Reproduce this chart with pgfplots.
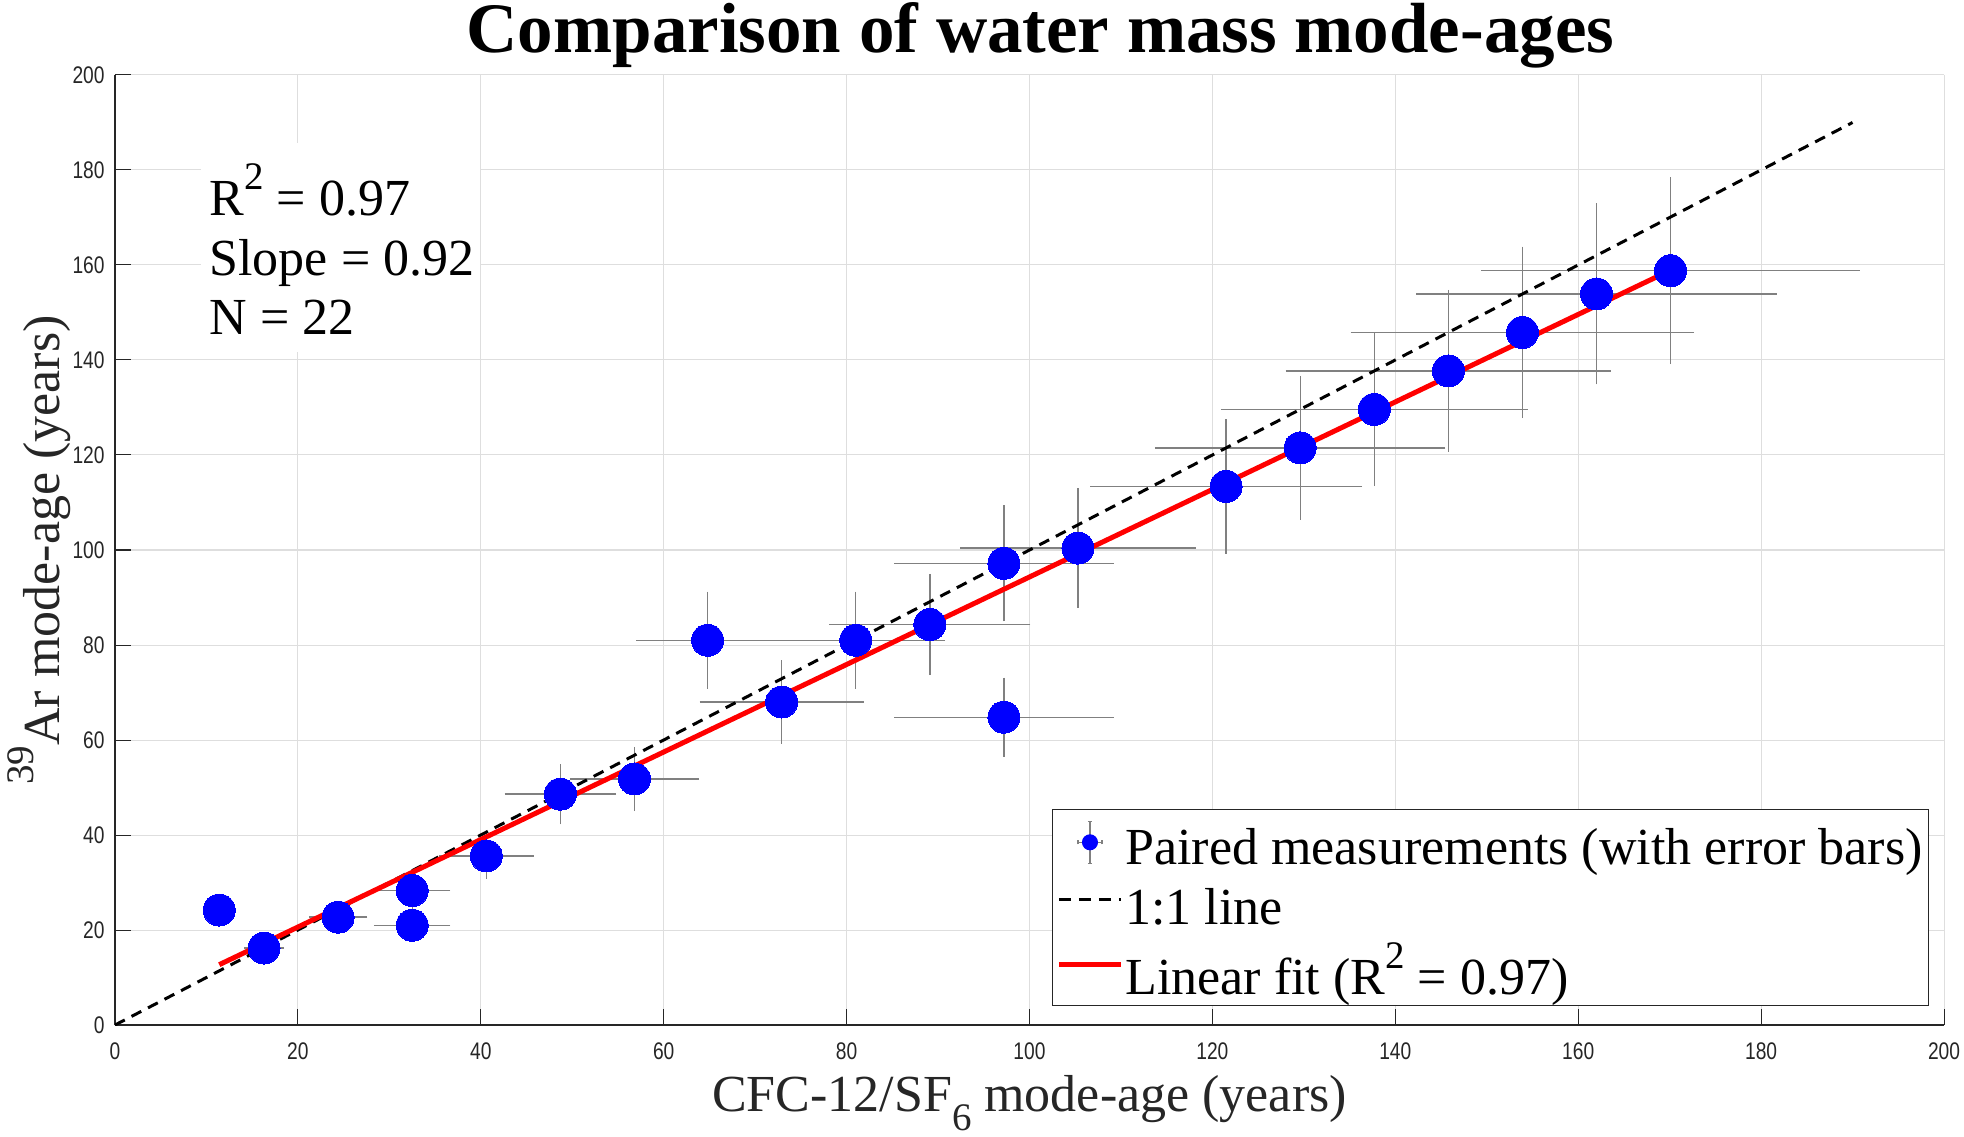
\documentclass[border=0pt]{standalone}
\usepackage{pgfplots}
\pgfplotsset{compat=1.18}
\usepackage{pgfplotstable}
\usepackage{fontspec}
\setmainfont{Liberation Serif}
\newfontfamily\tickfont[FakeStretch=0.8]{Liberation Sans}
\definecolor{axgray}{RGB}{38,38,38}
\definecolor{gridgray}{RGB}{222,222,222}
\definecolor{ebgray}{RGB}{128,128,128}
\newcommand{\msup}[1]{\raisebox{13pt}{\fontsize{19.5}{19.5}\selectfont #1}}
\newcommand{\msub}[1]{\raisebox{-9.5pt}{\fontsize{19.5}{19.5}\selectfont #1}}
\pgfplotstableread{
x y ex ey
11.4 24.2 1.4 2.9
16.3 16.2 1.9 2.0
24.4 22.7 2.9 2.7
32.5 28.3 3.9 3.4
32.5 21.0 3.9 2.5
40.6 35.6 4.9 4.3
48.7 48.6 5.8 5.8
56.8 51.8 6.8 6.2
64.8 81.0 7.5 9.7
72.9 68.0 8.7 8.2
81.0 81.0 9.5 9.7
89.1 84.3 10.7 10.1
97.2 97.2 11.7 11.7
97.2 64.8 11.7 7.8
105.3 100.4 12.6 12.0
121.5 113.4 14.6 13.6
129.6 121.5 15.6 14.6
137.7 129.6 16.5 15.6
145.8 137.7 17.5 16.5
153.9 145.8 18.5 17.5
162.0 153.9 19.4 18.5
170.1 158.8 20.4 19.1
}\pairs
\begin{document}
\begin{tikzpicture}
\useasboundingbox (-57.5pt,-55.5pt) rectangle (924.5pt,512.5pt);
\begin{axis}[
  at={(0pt,0pt)}, anchor=south west,
  scale only axis, width=914.5pt, height=475pt,
  xmin=0, xmax=200, ymin=0, ymax=200,
  xtick={0,20,...,200}, ytick={0,20,...,200},
  axis x line*=bottom, axis y line*=left,
  axis line style={axgray, line width=0.6pt},
  tick align=inside, major tick length=8pt,
  major tick style={axgray, line width=0.5pt},
  grid=major, major grid style={gridgray, line width=0.5pt},
  /pgf/number format/assume math mode=true,
  ticklabel style={font=\tickfont\fontsize{12}{14}\selectfont, text=axgray},
  xticklabel style={anchor=north, inner sep=0pt, yshift=-8.5pt},
  yticklabel style={anchor=east, inner sep=0pt, xshift=-5pt},
  title={Comparison of water mass mode-ages},
  title style={at={(axis description cs:0.506,1.0112)}, anchor=base, font=\bfseries\fontsize{35.5}{40}\selectfont, inner sep=0pt, text height=24pt, text depth=8pt},
  xlabel={CFC-12/SF\msub{6} mode-age (years)},
  xlabel style={at={(axis description cs:0.5,-0.09053)}, anchor=base, font=\fontsize{26}{30}\selectfont, text=axgray, inner sep=0pt},
  ylabel={\msup{39}Ar mode-age (years)},
  ylabel style={at={(axis description cs:-0.03007,0.5)}, rotate=0, anchor=base, font=\fontsize{26}{30}\selectfont, text=axgray, inner sep=0pt},
  legend style={at={(axis description cs:0.9918,0.02)}, anchor=south east, draw=axgray, line width=0.5pt, fill=white, inner xsep=2pt, inner ysep=3pt, row sep=0pt, font=\fontsize{26}{30}\selectfont, nodes={inner sep=1pt}},
  legend cell align=left,
]
\addplot[only marks, mark=*, mark size=8pt, mark options={fill=blue, draw=blue, line width=0pt},
  legend image code/.code={
    \path (0pt,0pt) (31pt,0pt);
    \draw[ebgray,line width=0.7pt] (15.5pt,-10.5pt) -- (15.5pt,10.5pt) (9.5pt,0pt) -- (21.5pt,0pt)
      (14.5pt,-10.5pt) -- (16.5pt,-10.5pt) (14.5pt,10.5pt) -- (16.5pt,10.5pt)
      (9.5pt,-1pt) -- (9.5pt,1pt) (21.5pt,-1pt) -- (21.5pt,1pt);
    \fill[blue] (15.5pt,0pt) circle (3.75pt);
  },
  error bars/.cd, x dir=both, x explicit, y dir=both, y explicit,
  error bar style={ebgray, line width=0.7pt},
  error mark options={ebgray, line width=0.7pt, mark size=1.3pt}]
  table[x=x, y=y, x error=ex, y error=ey]{\pairs};
\addlegendentry{Paired measurements (with error bars)\rule[-4pt]{0pt}{27.7pt}}
\addplot[black, line width=1.5pt, dash pattern=on 5.5pt off 3.8pt,
  legend image code/.code={\draw[black,line width=1.5pt,dash pattern=on 6pt off 4pt] (0pt,0pt)--(31pt,0pt);}]
  coordinates {(0,0) (190,190)};
\addlegendentry{1:1 line\rule[-4pt]{0pt}{30.5pt}}
\addplot[red, line width=2.5pt,
  legend image code/.code={\draw[red,line width=2.5pt] (0pt,0pt)--(31pt,0pt);}]
  coordinates {(11.4,12.7) (170.1,158.9)};
\addlegendentry{Linear fit (R\msup{2} = 0.97)\rule[-2.5pt]{0pt}{34pt}}
\fill[white] (axis cs:9.4,141.7) rectangle (axis cs:39.9,185.7);
\node[anchor=base west, inner sep=0pt, font=\fontsize{26}{30}\selectfont] at (axis cs:10.3,170.5) {R\msup{2} = 0.97};
\node[anchor=base west, inner sep=0pt, font=\fontsize{26}{30}\selectfont] at (axis cs:10.3,157.8) {Slope = 0.92};
\node[anchor=base west, inner sep=0pt, font=\fontsize{26}{30}\selectfont] at (axis cs:10.3,145.4) {N = 22};
\end{axis}
\end{tikzpicture}
\end{document}
